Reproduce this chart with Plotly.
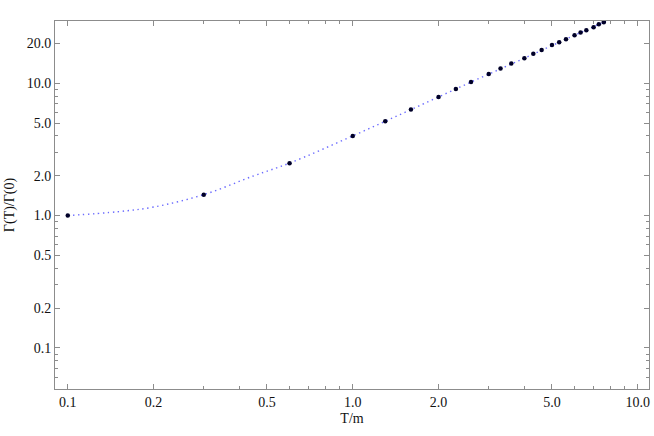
import math
import plotly.graph_objects as go

# Data points
T_points = [0.1, 0.3, 0.6, 1.0, 1.3, 1.6, 2.0, 2.3, 2.6, 3.0, 3.3, 3.6, 4.0, 4.3,
            4.6, 5.0, 5.3, 5.6, 6.0, 6.3, 6.6, 7.0, 7.3, 7.6]
G_points = [1.0, 1.44, 2.49, 4.0, 5.16, 6.32, 7.88, 9.06, 10.2, 11.75, 12.9, 14.06,
            15.45, 16.7, 17.8, 19.4, 20.4, 21.5, 23.0, 24.1, 25.1, 26.5, 27.9, 28.9]

# Dotted curve
T_curve = [0.1, 0.15, 0.2, 0.3, 0.45, 0.6, 1.0, 1.6, 2.6, 4.0, 6.0, 8.0]
G_curve = [1.0, 1.07, 1.16, 1.44, 2.0, 2.49, 4.0, 6.32, 10.2, 15.45, 23.0, 30.4]

x_ticks = [0.1, 0.2, 0.5, 1.0, 2.0, 5.0, 10.0]
x_ticktext = ["0.1", "0.2", "0.5", "1.0", "2.0", "5.0", "10.0"]
y_ticks = [0.1, 0.2, 0.5, 1.0, 2.0, 5.0, 10.0, 20.0]
y_ticktext = ["0.1", "0.2", "0.5", "1.0", "2.0", "5.0", "10.0", "20.0"]
minor_vals = [0.03, 0.04, 0.06, 0.07, 0.08, 0.09, 0.3, 0.4, 0.6, 0.7, 0.8, 0.9,
              3, 4, 6, 7, 8, 9, 30, 40]

fig = go.Figure()
fig.add_trace(go.Scatter(x=T_curve, y=G_curve, mode="lines",
                         line=dict(color="rgba(70,70,255,0.8)", width=1.4,
                                   dash="1.4px,3.6px", shape="spline"),
                         hoverinfo="skip", showlegend=False))
fig.add_trace(go.Scatter(x=T_points, y=G_points, mode="markers",
                         marker=dict(color="#000028", size=4.5),
                         showlegend=False))

axis_common = dict(type="log", showgrid=False, zeroline=False, showline=True,
                   automargin=False,
                   linecolor="#8c8c8c", linewidth=1, mirror="ticks",
                   ticks="inside", ticklen=5, tickcolor="#8c8c8c", tickwidth=1,
                   tickfont=dict(family="Liberation Serif", size=14, color="#111"),
                   minor=dict(ticks="inside", ticklen=3, tickcolor="#8c8c8c",
                              tickvals=minor_vals, showgrid=False))

fig.update_xaxes(**axis_common, range=[math.log10(0.0902), math.log10(10.95)],
                 tickvals=x_ticks, ticktext=x_ticktext, ticklabelstandoff=0,
                 title=dict(text="T/m", font=dict(family="Liberation Serif", size=14, color="#111"),
                            standoff=4))
fig.update_yaxes(**axis_common, range=[math.log10(0.049), math.log10(29.5)],
                 tickvals=y_ticks, ticktext=y_ticktext,
                 title=dict(text="Γ(T)/Γ(0)", font=dict(family="Liberation Serif", size=14, color="#111"),
                            standoff=8))

fig.update_layout(width=654, height=436, margin=dict(l=55, r=5, t=21, b=47),
                  plot_bgcolor="white", paper_bgcolor="white")

fig.write_html("out.html", config={"displayModeBar": False},
               post_script="document.body.style.margin='0';document.body.style.overflow='hidden';")
